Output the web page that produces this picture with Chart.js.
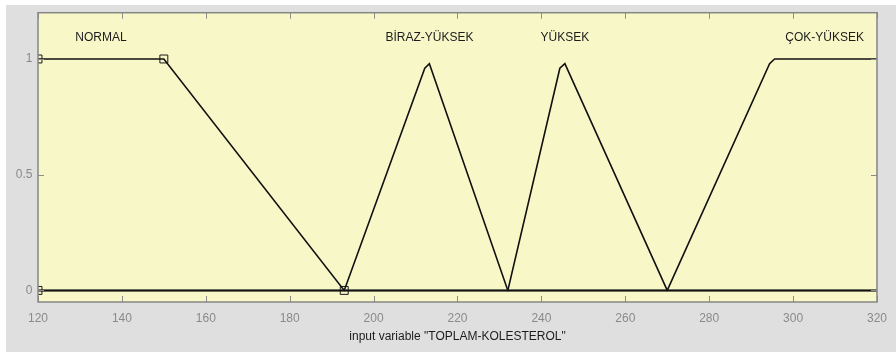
<!DOCTYPE html>
<html>
<head>
<meta charset="utf-8">
<script src="https://cdn.jsdelivr.net/npm/chart.js@4.4.1/dist/chart.umd.min.js"></script>
<style>
  html, body { margin: 0; padding: 0; background: #ffffff; }
  #wrap { position: relative; width: 896px; height: 352px; }
</style>
</head>
<body>
<div id="wrap"><canvas id="c" width="896" height="352"></canvas></div>
<script>
// ---- data (membership functions of "TOPLAM-KOLESTEROL") ----
const xRange = [120, 320];
const xTicks = [120, 140, 160, 180, 200, 220, 240, 260, 280, 300, 320];
const yTicks = [0, 0.5, 1];
const yTickLabels = ['0', '0.5', '1'];

const mfNames = ['NORMAL', 'BİRAZ-YÜKSEK', 'YÜKSEK', 'ÇOK-YÜKSEK'];
const mfLabelX = [135, 213.3, 245.6, 307.5];
const mfLabelY = 1.094;

const normalX = [120, 150, 193, 320];
const normalY = [1, 1, 0, 0];

const birazX = [120, 193, 212.2, 213.3, 232, 320];
const birazY = [0, 0, 0.96, 0.98, 0, 0];

const yuksekX = [120, 232, 244.4, 245.6, 270, 320];
const yuksekY = [0, 0, 0.96, 0.98, 0, 0];

const cokX = [120, 270, 294.4, 295.6, 320];
const cokY = [0, 0, 0.98, 1, 1];

// control-point markers of the selected MF (NORMAL)
const markerX = [120, 120, 150, 193];
const markerY = [0, 1, 1, 0];

const axisTitle = 'input variable "TOPLAM-KOLESTEROL"';

// ---- build ----
const pts = (xs, ys) => xs.map((x, i) => ({ x: x, y: ys[i] }));

const lineDs = (label, xs, ys) => ({
  label: label,
  data: pts(xs, ys),
  borderColor: '#111111',
  borderWidth: 1.6,
  pointRadius: 0,
  tension: 0,
  fill: false
});

const bgPlugin = {
  id: 'bg',
  beforeDraw(chart) {
    const ctx = chart.ctx, a = chart.chartArea;
    ctx.save();
    ctx.fillStyle = '#ffffff';
    ctx.fillRect(0, 0, chart.width, chart.height);
    ctx.fillStyle = '#dfdfdf';
    ctx.fillRect(6, 5, chart.width - 6, chart.height - 5);
    ctx.fillStyle = '#f8f7c8';
    ctx.fillRect(a.left, a.top, a.right - a.left, a.bottom - a.top);
    ctx.restore();
  },
  afterDatasetsDraw(chart) {
    const ctx = chart.ctx, a = chart.chartArea;
    const xs = chart.scales.x, ys = chart.scales.y;
    ctx.save();
    // inner tick marks
    ctx.strokeStyle = '#8c8c8c';
    ctx.lineWidth = 1;
    ctx.beginPath();
    xTicks.forEach(v => {
      const px = Math.round(xs.getPixelForValue(v)) + 0.5;
      ctx.moveTo(px, a.bottom); ctx.lineTo(px, a.bottom - 6);
      ctx.moveTo(px, a.top); ctx.lineTo(px, a.top + 6);
    });
    yTicks.forEach(v => {
      const py = Math.round(ys.getPixelForValue(v)) + 0.5;
      ctx.moveTo(a.left, py); ctx.lineTo(a.left + 6, py);
      ctx.moveTo(a.right, py); ctx.lineTo(a.right - 6, py);
    });
    ctx.stroke();
    // frame
    ctx.strokeStyle = '#868686';
    ctx.lineWidth = 1.5;
    ctx.strokeRect(a.left, a.top, a.right - a.left, a.bottom - a.top);
    // MF names
    ctx.fillStyle = '#1c1c1c';
    ctx.font = '12px "Liberation Sans", Arial, sans-serif';
    ctx.textAlign = 'center';
    ctx.textBaseline = 'middle';
    mfNames.forEach((n, i) => {
      ctx.fillText(n, xs.getPixelForValue(mfLabelX[i]), ys.getPixelForValue(mfLabelY));
    });
    ctx.restore();
  }
};

new Chart(document.getElementById('c'), {
  type: 'line',
  data: {
    datasets: [
      lineDs(mfNames[0], normalX, normalY),
      lineDs(mfNames[1], birazX, birazY),
      lineDs(mfNames[2], yuksekX, yuksekY),
      lineDs(mfNames[3], cokX, cokY),
      {
        label: 'markers',
        data: pts(markerX, markerY),
        showLine: false,
        pointStyle: 'rect',
        pointRadius: 5.6,
        pointBorderWidth: 1,
        pointBorderColor: '#1a1a1a',
        pointBackgroundColor: 'rgba(0,0,0,0)',
        clip: 0
      }
    ]
  },
  options: {
    responsive: false,
    animation: false,
    devicePixelRatio: 1,
    layout: { padding: { left: 0, top: 10, right: 17, bottom: 0 } },
    plugins: { legend: { display: false }, tooltip: { enabled: false }, title: { display: false } },
    scales: {
      x: {
        type: 'linear',
        min: xRange[0],
        max: xRange[1],
        afterBuildTicks(s) { s.ticks = xTicks.map(v => ({ value: v })); },
        afterFit(s) { s.height = 50; },
        grid: { display: false, drawTicks: false },
        border: { display: false },
        ticks: {
          padding: 9,
          color: '#8a8a8a',
          font: { family: '"Liberation Sans", Arial, sans-serif', size: 12 },
          maxRotation: 0,
          autoSkip: false
        },
        title: {
          display: true,
          text: axisTitle,
          color: '#1c1c1c',
          font: { family: '"Liberation Sans", Arial, sans-serif', size: 12 },
          padding: { top: 0, bottom: 8 }
        }
      },
      y: {
        type: 'linear',
        min: -0.05,
        max: 1.2,
        afterBuildTicks(s) { s.ticks = yTicks.map(v => ({ value: v })); },
        afterFit(s) { s.width = 38; },
        grid: { display: false, drawTicks: false },
        border: { display: false },
        ticks: {
          padding: 5.5,
          color: '#8a8a8a',
          font: { family: '"Liberation Sans", Arial, sans-serif', size: 12 },
          callback: (v) => {
            const i = yTicks.indexOf(v);
            return i >= 0 ? yTickLabels[i] : '';
          }
        }
      }
    }
  },
  plugins: [bgPlugin]
});
</script>
</body>
</html>
